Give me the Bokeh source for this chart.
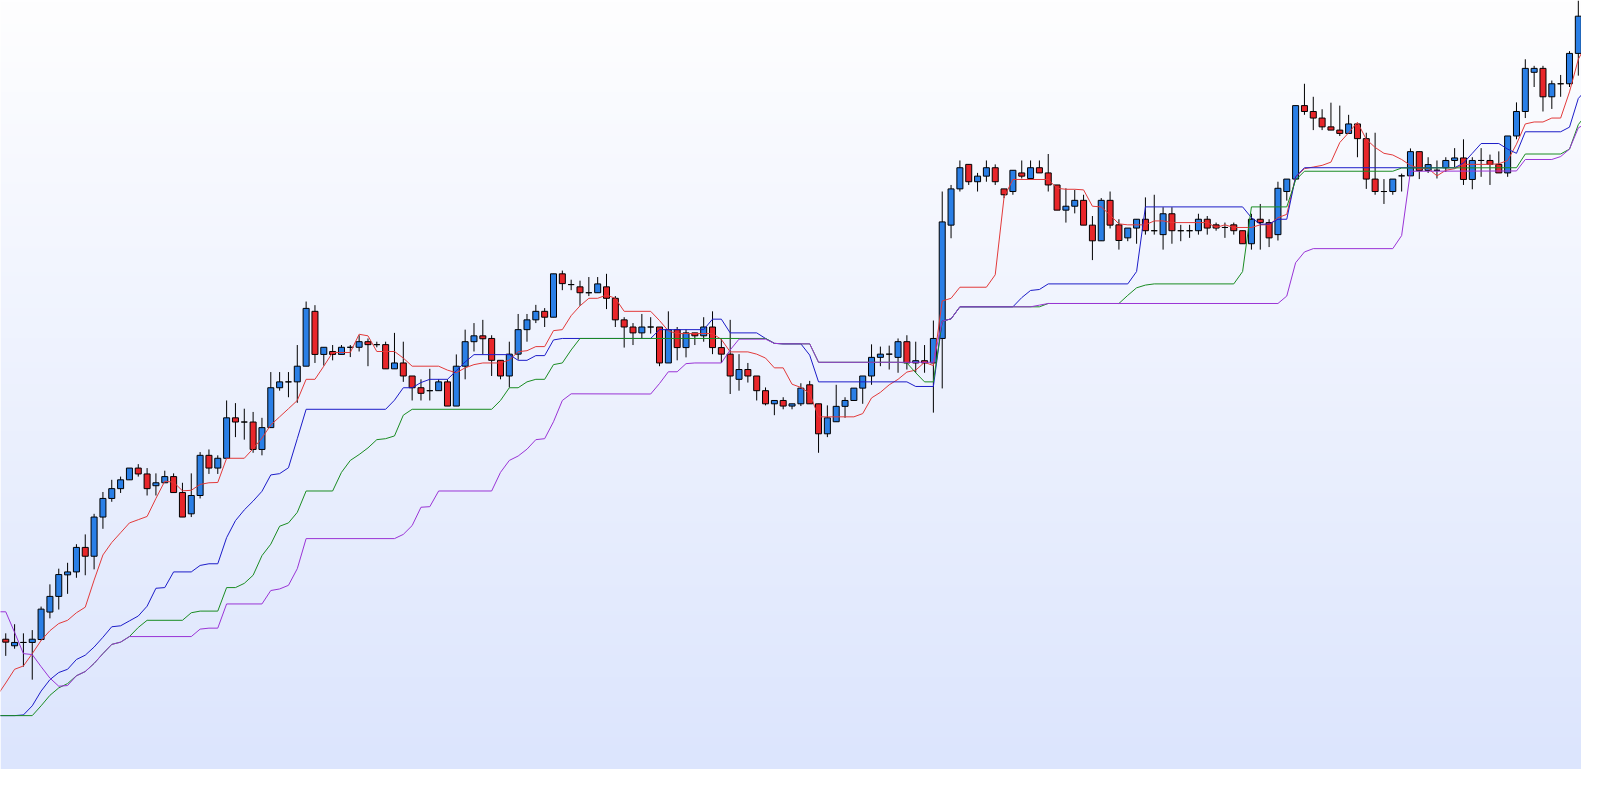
import numpy as np
from bokeh.plotting import figure
from bokeh.models import Range1d, ColumnDataSource
from bokeh.embed import file_html
from bokeh.resources import INLINE

# ---------------- data ----------------
open_ = [13.3, 12.63, 12.97, 12.97, 13.27, 16.07, 17.67, 19.87, 20.17, 22.67,
         21.77, 25.77, 27.67, 28.67, 29.57, 30.77, 30.17, 28.97, 29.27, 29.9,
         28.27, 26.1, 27.97, 32.07, 30.77, 31.77, 35.9, 35.47, 35.47, 32.67,
         34.9, 38.97, 39.57, 39.57, 41.17, 46.77, 42.37, 42.67, 42.37, 43.1,
         43.1, 43.67, 43.37, 43.37, 40.9, 41.5, 40.17, 38.97, 38.67, 38.67,
         39.57, 37.1, 41.17, 43.67, 44.27, 44.0, 41.77, 40.17, 42.4, 44.9,
         45.9, 46.77, 46.17, 50.6, 49.5, 49.27, 48.67, 48.67, 49.27, 48.1,
         45.9, 45.17, 44.57, 45.17, 45.17, 41.5, 44.9, 43.07, 44.57, 44.27,
         45.17, 43.07, 42.4, 39.83, 40.83, 40.17, 38.67, 37.33, 37.67, 37.1,
         37.33, 39.27, 37.33, 34.27, 35.5, 37.07, 37.67, 38.93, 40.17, 42.07,
         42.4, 42.07, 43.67, 41.5, 41.73, 41.5, 44.0, 55.57, 59.27, 61.77,
         60.0, 60.57, 61.43, 59.27, 59.0, 60.9, 60.33, 61.43, 60.9, 59.67,
         57.1, 57.5, 58.1, 55.57, 53.97, 58.1, 55.6, 54.27, 55.27, 56.17,
         55.0, 54.6, 56.73, 55.0, 55.0, 55.0, 56.17, 55.6, 55.33, 55.6,
         55.0, 53.67, 56.17, 55.83, 54.6, 59.0, 60.27, 67.77, 67.17, 66.5,
         65.6, 65.27, 64.93, 65.9, 64.4, 60.27, 59.0, 59.0, 60.6, 60.6,
         63.07, 61.15, 61.17, 61.43, 62.17, 62.43, 60.23, 62.17, 62.17, 61.77,
         60.9, 64.67, 67.17, 71.17, 71.57, 68.67, 70.0, 70.0, 73.1]

high = [13.9, 14.83, 13.9, 14.23, 16.63, 18.9, 20.5, 21.1, 23.0, 24.0,
        26.1, 28.33, 29.57, 29.9, 30.77, 31.17, 30.77, 30.23, 30.5, 30.23,
        29.27, 30.23, 32.4, 32.67, 32.07, 37.67, 37.4, 36.83, 36.5, 35.9,
        40.57, 40.57, 40.57, 43.33, 47.77, 47.4, 43.1, 43.33, 43.33, 43.33,
        44.33, 44.0, 43.67, 43.67, 44.57, 43.67, 40.17, 39.83, 40.9, 39.83,
        39.83, 42.37, 44.9, 45.57, 45.9, 44.33, 41.77, 43.67, 46.5, 46.5,
        47.43, 47.1, 50.6, 50.93, 50.0, 49.9, 50.27, 50.27, 50.6, 48.33,
        46.17, 45.57, 46.5, 46.17, 45.17, 46.77, 45.17, 44.9, 44.57, 46.17,
        46.77, 44.0, 45.9, 42.4, 41.5, 40.17, 39.0, 37.67, 38.0, 37.33,
        39.43, 39.67, 37.33, 37.17, 39.27, 38.0, 38.93, 40.17, 43.4, 43.17,
        43.27, 44.0, 44.33, 43.67, 43.33, 45.83, 59.0, 59.67, 62.17, 61.77,
        60.9, 62.17, 61.77, 59.27, 61.17, 62.17, 62.17, 62.17, 62.83, 59.67,
        59.33, 59.17, 58.67, 56.5, 58.33, 59.0, 56.17, 55.27, 56.17, 58.4,
        58.67, 57.4, 57.4, 55.6, 55.6, 56.73, 56.5, 55.83, 55.83, 55.83,
        55.0, 56.73, 57.73, 56.17, 60.0, 60.27, 67.77, 70.0, 68.67, 67.4,
        68.07, 67.77, 66.83, 65.9, 65.0, 65.0, 60.27, 60.27, 60.83, 63.4,
        63.07, 62.5, 62.17, 62.5, 63.43, 64.33, 62.5, 63.43, 62.77, 63.1,
        64.67, 68.1, 72.5, 71.83, 71.83, 70.33, 70.9, 73.33, 78.5]

low = [11.6, 12.33, 10.5, 9.17, 13.17, 15.43, 16.33, 17.93, 19.57, 19.83,
       20.43, 24.57, 27.33, 28.23, 29.57, 29.9, 27.97, 27.97, 29.27, 28.27,
       25.77, 25.77, 27.67, 30.17, 30.17, 31.77, 33.93, 33.67, 32.33, 32.07,
       34.9, 38.67, 38.0, 37.43, 41.17, 41.5, 41.23, 41.77, 42.37, 42.1,
       42.67, 41.17, 43.1, 40.9, 40.9, 39.57, 37.67, 37.67, 37.67, 38.67,
       37.1, 37.1, 39.83, 42.67, 42.37, 40.17, 39.83, 39.0, 41.83, 43.67,
       45.57, 45.17, 46.17, 48.93, 48.93, 47.33, 48.33, 48.67, 47.0, 45.17,
       43.07, 43.33, 44.0, 44.5, 41.17, 41.5, 41.77, 42.07, 43.33, 43.67,
       42.4, 41.5, 38.33, 38.67, 39.5, 37.67, 37.17, 36.17, 36.77, 36.77,
       37.1, 37.33, 32.33, 33.93, 35.5, 35.9, 37.67, 37.33, 39.27, 41.17,
       40.83, 40.5, 40.83, 40.5, 40.5, 36.43, 38.9, 54.23, 59.0, 59.67,
       59.0, 60.0, 59.67, 58.33, 58.67, 60.33, 60.33, 60.9, 59.0, 57.1,
       55.83, 56.77, 55.57, 52.0, 53.97, 55.23, 53.07, 53.93, 53.67, 54.6,
       54.6, 53.07, 53.67, 53.93, 54.27, 54.6, 54.6, 55.0, 54.27, 54.6,
       53.67, 53.07, 53.07, 53.33, 54.0, 58.07, 60.27, 66.83, 65.27, 65.27,
       65.27, 64.67, 64.93, 62.5, 59.27, 58.67, 57.73, 58.67, 59.0, 60.6,
       60.27, 60.9, 60.33, 61.0, 61.5, 59.67, 59.23, 60.5, 59.67, 60.9,
       60.5, 64.33, 66.5, 69.67, 67.17, 67.43, 68.67, 69.67, 70.83]

close = [13.0, 12.97, 12.97, 13.3, 16.37, 17.67, 19.9, 20.17, 22.67, 21.77,
         25.77, 27.67, 28.67, 29.57, 30.77, 30.17, 28.67, 29.27, 29.9, 28.27,
         25.77, 27.97, 32.07, 30.77, 31.77, 35.9, 35.47, 35.47, 32.67, 34.9,
         38.97, 39.57, 39.57, 41.17, 47.07, 42.37, 43.1, 42.37, 43.1, 43.1,
         43.67, 43.37, 43.37, 40.9, 41.5, 40.17, 38.97, 38.4, 38.67, 39.57,
         37.1, 41.17, 43.67, 44.27, 43.97, 41.77, 40.17, 42.4, 44.9, 45.9,
         46.77, 46.17, 50.6, 49.6, 49.5, 48.67, 48.67, 49.57, 48.1, 45.9,
         45.17, 44.57, 45.17, 45.17, 41.5, 44.9, 43.07, 44.57, 44.27, 45.17,
         43.07, 42.4, 40.17, 40.83, 40.17, 38.67, 37.33, 37.67, 37.1, 37.33,
         38.93, 37.33, 34.27, 35.9, 37.07, 37.67, 38.93, 40.17, 42.07, 42.4,
         42.4, 43.67, 41.5, 41.73, 41.5, 44.0, 55.9, 59.27, 61.43, 60.0,
         60.57, 61.43, 60.0, 58.67, 61.17, 60.57, 61.43, 60.9, 59.67, 57.1,
         57.5, 58.1, 55.57, 53.97, 58.1, 55.57, 54.0, 55.27, 56.17, 55.0,
         55.0, 56.73, 55.0, 55.0, 55.0, 56.17, 55.27, 55.27, 55.33, 55.0,
         53.67, 56.17, 55.83, 54.27, 59.33, 60.27, 67.77, 67.17, 66.5, 65.6,
         65.27, 64.93, 65.9, 64.4, 60.27, 59.0, 59.0, 60.27, 60.6, 63.07,
         61.13, 61.75, 61.17, 62.17, 62.43, 60.23, 62.17, 62.17, 61.77, 60.9,
         64.67, 67.17, 71.57, 71.57, 68.67, 70.0, 70.0, 73.1, 76.9]

# indicator lines: vertices (bar index, value)
red_idx = [-1, 0, 1, 2, 3, 4, 5, 6, 7, 8, 9, 10, 11, 12, 13, 14, 15, 16, 17, 18, 19, 20, 21, 22, 23, 24, 25, 27, 28, 29,
           30, 31, 32, 33, 34, 35, 36, 37, 39, 40, 41, 42, 44, 45, 46, 49, 50, 51, 52, 53, 54, 56, 57, 58, 59, 60, 61,
           62, 63, 64, 65, 66, 67, 68, 69, 70, 73, 74, 75, 76, 80, 81, 82, 84, 85, 86, 87, 88, 89, 90, 91, 92, 96, 97,
           98, 99, 100, 101, 102, 103, 104, 105, 106, 107, 108, 111, 112, 113, 114, 118, 119, 120, 121, 122, 123, 124,
           125, 126, 127, 129, 130, 131, 132, 136, 137, 138, 139, 141, 142, 143, 144, 145, 146, 147, 148, 149, 150,
           151, 152, 153, 154, 155, 156, 157, 158, 159, 160, 161, 162, 163, 164, 165, 168, 169, 170, 171, 172, 173,
           174, 175, 176, 177, 178, 179]
red_val = [7.5, 8.83, 10.23, 10.57, 11.83, 13.17, 14.17, 14.9, 15.23, 16.0, 16.57, 19.33, 21.9, 23.17, 24.17, 25.17,
           25.5, 25.83, 27.67, 29.43, 29.33, 28.45, 28.5, 29.1, 29.27, 29.3, 31.77, 31.77, 32.75, 33.83,
           35.17, 36.0, 36.83, 37.67, 39.83, 39.83, 41.17, 42.57, 42.57, 44.43, 44.27, 42.67, 42.67, 42.0, 41.17, 41.17,
           40.77, 40.5, 41.0, 41.33, 41.5, 41.5, 41.8, 42.65, 42.75, 43.17, 43.17,
           44.8, 44.9, 46.33, 47.33, 48.1, 48.1, 48.43, 48.1, 46.77, 46.77, 45.83, 44.77, 44.5, 44.5, 43.9, 42.63, 42.63,
           42.4, 42.0, 41.0, 41.0, 39.33, 39.0, 38.4, 36.0, 36.0, 36.33,
           37.93, 38.5, 39.27, 39.83, 40.57, 40.77, 41.57, 41.23, 47.83, 48.1, 49.23, 49.23, 50.5, 58.43, 60.23, 60.23,
           59.33, 59.23, 59.23, 59.17, 57.5, 57.43,
           56.6, 55.7, 55.6, 55.6, 56.0, 56.0, 55.83, 55.83, 55.33, 55.6, 55.33, 55.33, 55.6, 55.6, 56.33, 56.67, 60.5,
           61.33, 61.5, 61.67, 62.0,
           64.0, 65.0, 66.07, 64.33, 63.5, 62.9, 62.73, 62.27, 61.67, 61.38, 61.35, 60.6, 61.17, 61.33, 61.77, 61.77,
           61.83, 62.17, 63.83, 65.9, 66.1,
           66.1, 66.5, 66.5, 69.17, 72.5, 74.2]

blue_idx = [-1, 1, 2, 3, 4, 5, 6, 7, 8, 9, 10, 11, 12, 13, 14, 15, 16, 17, 18, 19, 21, 22, 23, 24, 25, 26, 27, 28, 29,
            30, 31, 32, 33, 34, 43, 44, 45, 46, 47, 48, 50, 51, 52, 53, 57, 58, 59, 60, 61, 62, 63, 73, 74, 79, 80, 81,
            82, 85, 86, 87, 88, 90, 91, 92, 102, 103, 105, 106, 107, 108, 114, 115, 116, 117, 118, 127, 128, 129, 140,
            141, 142, 143, 144, 145, 146, 147, 164, 165, 166, 167, 169, 170, 171, 172, 176, 177, 178, 179]
blue_val = [5.5, 5.5, 5.57, 6.5, 8.0, 9.17, 9.9, 10.23, 11.23, 11.67, 12.5, 13.5, 14.57, 14.67, 15.17, 15.67, 16.67,
            18.5, 18.57, 20.17, 20.17, 20.83, 21.0, 21.0, 23.67, 25.4, 26.5, 27.4, 28.4,
            30.07, 30.2, 30.8, 33.77, 36.77, 36.77, 37.7, 38.97, 38.97, 39.5, 39.83, 39.83, 40.7, 41.6, 42.35, 42.35,
            41.77, 41.77, 42.25, 42.25, 43.85, 44.0, 44.0, 44.9, 44.9, 45.97, 45.97,
            44.57, 44.57, 44.0, 43.5, 43.45, 43.45, 42.3, 39.57, 39.57, 39.1, 39.1, 45.77, 46.0, 47.23, 47.23, 48.17,
            48.9, 49.0, 49.57, 49.57, 50.83, 57.43, 57.43,
            56.33, 55.67, 55.67, 56.17, 56.17, 60.5, 61.43, 61.43, 61.9, 62.9, 63.9, 63.9, 63.33, 62.9, 65.1, 65.1,
            65.57, 68.5, 69.5]

green_idx = [-1, 3, 4, 5, 6, 7, 8, 9, 10, 11, 12, 13, 14, 15, 16, 20, 21, 22, 24, 25, 26, 27, 28, 29, 30, 31, 32, 33,
             34, 37, 38, 39, 40, 41, 42, 43, 44, 45, 46, 55, 56, 57, 58, 59, 60, 61, 62, 63, 64, 65, 86, 87, 88, 91,
             92, 101, 102, 103, 104, 105, 106, 107, 108, 117, 118, 126, 127, 128, 129, 130, 139, 140, 141, 145, 146,
             147, 157, 158, 171, 172, 176, 177, 178, 179]
green_val = [5.5, 5.5, 6.5, 7.57, 8.33, 8.77, 9.57, 10.0, 10.83, 11.83, 12.77, 13.0, 13.57, 14.5, 15.23, 15.23, 16.0,
             16.17, 16.17, 18.57, 18.57, 19.0, 19.83, 21.83, 23.0, 24.83, 25.17, 26.25,
             28.43, 28.43, 30.33, 31.55, 32.15, 32.83, 33.67, 33.77, 34.05, 36.17, 36.77, 36.77, 37.67, 38.97, 38.97,
             39.57, 39.83, 39.83, 41.33, 41.5, 42.83, 44.0, 44.0, 43.5, 43.45, 43.45,
             41.57, 41.57, 41.5, 40.5, 39.57, 39.57, 45.77, 46.0, 47.23, 47.23, 47.57, 47.57, 48.4, 49.17, 49.45, 49.57,
             49.57, 50.83, 57.43, 57.43, 60.17,
             61.07, 61.07, 61.4, 61.43, 62.83, 62.83, 63.33, 65.83, 67.0]

purple_idx = [-1, 0, 1, 2, 3, 4, 5, 6, 7, 8, 9, 10, 11, 12, 13, 14, 21, 22, 23, 24, 25, 29, 30, 31, 32, 33, 34, 44, 45,
              46, 47, 48, 49, 55, 56, 57, 58, 59, 60, 61, 62, 63, 64, 73, 74, 75, 76, 77, 78, 81, 82, 83, 86, 87, 88,
              91, 92, 105, 106, 107, 108, 116, 117, 118, 144, 145, 146, 147, 148, 157, 158, 159, 171, 172, 175, 176,
              177, 178, 179]
purple_val = [16.1, 16.1, 14.0, 11.83, 11.73, 10.5, 9.33, 8.5, 8.57, 9.57, 10.0, 10.83, 11.83, 12.77, 13.0, 13.57,
              13.57, 14.33, 14.43, 14.43, 16.9, 16.9, 18.27, 18.43, 18.8, 20.5, 23.57, 23.57, 24.0,
              24.9, 26.77, 26.83, 28.43, 28.43, 30.33, 31.55, 32.0, 32.7, 33.67, 33.77, 35.5, 37.67, 38.35, 38.33, 39.4,
              40.6, 40.6, 41.43, 41.5, 41.5, 42.83, 43.93, 43.93, 43.5, 43.45,
              43.45, 41.57, 41.57, 45.77, 46.0, 47.23, 47.23, 47.4, 47.57, 47.57, 48.33, 51.73, 52.83, 53.17, 53.17,
              54.5, 61.07, 61.1, 62.27, 62.27, 62.57,
              63.33, 65.5, 66.0]

# ---------------- figure ----------------
W, H = 1581, 769
X0, X1 = -0.594, 178.36
Y0, Y1 = 0.0, 78.5

p = figure(width=W, height=H, x_range=Range1d(X0, X1), y_range=Range1d(Y0, Y1),
           output_backend="svg", toolbar_location=None,
           x_axis_location=None, y_axis_location=None,
           min_border=0, outline_line_color=None, border_fill_color="white")
p.xgrid.visible = False
p.ygrid.visible = False

# background vertical gradient (style only)
rows = 384
t = np.linspace(0.0, 1.0, rows)[:, None]          # 0 = bottom, 1 = top
bottom_c = np.array([220, 229, 253], dtype=float)
top_c = np.array([254, 254, 255], dtype=float)
rgb = bottom_c + (top_c - bottom_c) * t
img = np.empty((rows, 1), dtype=np.uint32)
view = img.view(dtype=np.uint8).reshape((rows, 1, 4))
view[:, 0, 0] = rgb[:, 0].astype(np.uint8)
view[:, 0, 1] = rgb[:, 1].astype(np.uint8)
view[:, 0, 2] = rgb[:, 2].astype(np.uint8)
view[:, 0, 3] = 255
p.image_rgba(image=[img], x=X0, y=Y0, dw=X1 - X0, dh=Y1 - Y0)

idx = list(range(len(open_)))
top = [max(o, c) for o, c in zip(open_, close)]
bot = [min(o, c) for o, c in zip(open_, close)]
col = ["#2a7fe6" if c >= o else "#e8262a" for o, c in zip(open_, close)]
src = ColumnDataSource(dict(x=idx, high=high, low=low, top=top, bot=bot, col=col))

p.segment(x0="x", y0="high", x1="x", y1="low", source=src, line_color="black", line_width=1)
p.vbar(x="x", width=0.68, top="top", bottom="bot", source=src,
       fill_color="col", line_color="black", line_width=1)

p.line(red_idx, red_val, line_color="#e23a3a", line_width=1)
p.line(blue_idx, blue_val, line_color="#1c1cc8", line_width=1)
p.line(green_idx, green_val, line_color="#1a8c22", line_width=1)
p.line(purple_idx, purple_val, line_color="#9a34d6", line_width=1)

open("out.html", "w").write(file_html(p, INLINE))
